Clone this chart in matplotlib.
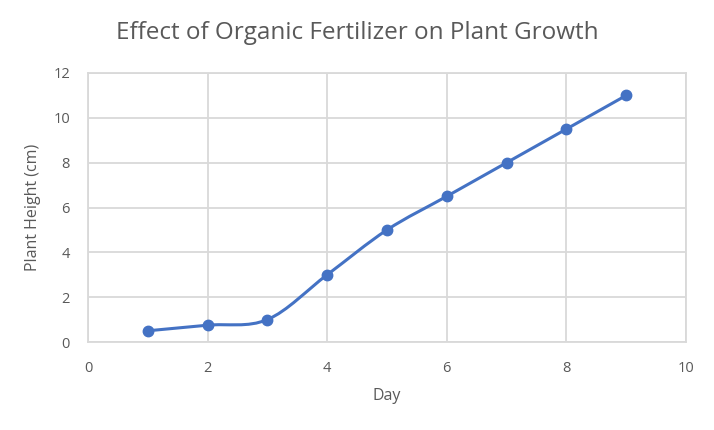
import numpy as np
import matplotlib.pyplot as plt
from matplotlib.path import Path
from matplotlib.patches import PathPatch

days = [1, 2, 3, 4, 5, 6, 7, 8, 9]
height_cm = [0.5, 0.75, 1, 3, 5, 6.5, 8, 9.5, 11]
x_ticks = [0, 2, 4, 6, 8, 10]
y_ticks = [0, 2, 4, 6, 8, 10, 12]

blue = '#4472C4'
grid_c = '#d9d9d9'
txt_c = '#595959'

plt.rcParams['font.family'] = ['Open Sans', 'DejaVu Sans']

fig = plt.figure(figsize=(7.14, 4.30), dpi=100)
ax = fig.add_axes([88/714, 88/430, 598/714, 269/430])

# smoothed line like excel: catmull-rom bezier through the points
pts = np.column_stack([days, height_cm]).astype(float)
verts = [pts[0]]
codes = [Path.MOVETO]
n = len(pts)
for i in range(n - 1):
    p0 = pts[i - 1] if i > 0 else pts[i]
    p1 = pts[i]
    p2 = pts[i + 1]
    p3 = pts[i + 2] if i + 2 < n else pts[i + 1]
    verts += [p1 + (p2 - p0) / 6, p2 - (p3 - p1) / 6, p2]
    codes += [Path.CURVE4] * 3
ax.add_patch(PathPatch(Path(verts, codes), fill=False, edgecolor=blue,
                       lw=2.2, capstyle='round', joinstyle='round', zorder=3))
ax.plot(days, height_cm, 'o', color=blue, ms=7.5, zorder=4)

ax.set_xlim(0, 10)
ax.set_ylim(0, 12)
ax.set_xticks(x_ticks)
ax.set_yticks(y_ticks)
ax.grid(True, color=grid_c, lw=1.3)
ax.set_axisbelow(True)
for s in ax.spines.values():
    s.set_color(grid_c)
    s.set_linewidth(1.3)
ax.tick_params(length=0, colors=txt_c, labelsize=10.5, pad=14)
ax.tick_params(axis='y', pad=13)

ax.set_xlabel('Day', color=txt_c, fontsize=11.5, labelpad=8)
ax.set_ylabel('Plant Height (cm)', color=txt_c, fontsize=11.5, labelpad=9)
fig.text(0.5, 1 - 33/430, 'Effect of Organic Fertilizer on Plant Growth',
         ha='center', va='center', color=txt_c, fontsize=17.5)

fig.savefig('out.png', dpi=100)
